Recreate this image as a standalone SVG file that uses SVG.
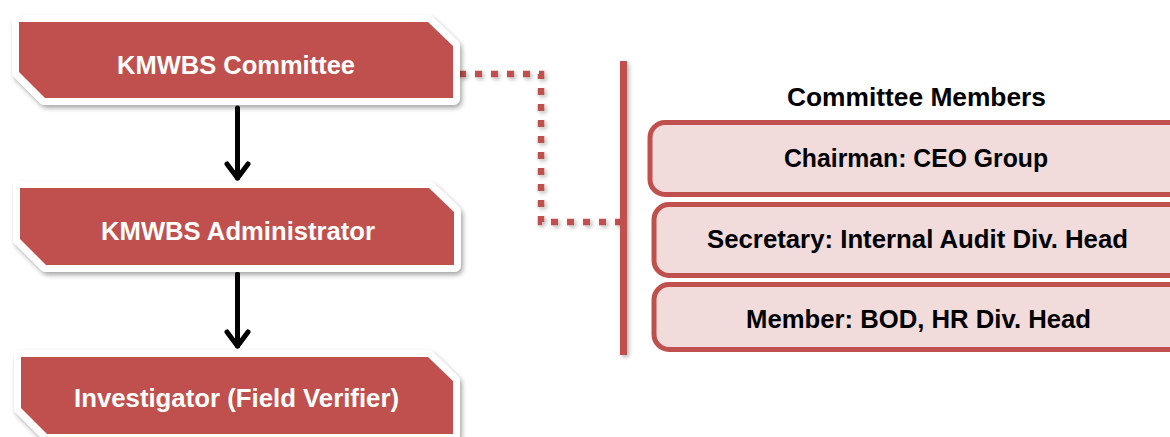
<svg xmlns="http://www.w3.org/2000/svg" width="1170" height="437" viewBox="0 0 1170 437">
<defs>
<filter id="sh" x="-10%" y="-20%" width="120%" height="150%">
<feGaussianBlur in="SourceAlpha" stdDeviation="2.5"/>
<feOffset dx="2" dy="3" result="b"/>
<feComponentTransfer><feFuncA type="linear" slope="0.35"/></feComponentTransfer>
<feMerge><feMergeNode/><feMergeNode in="SourceGraphic"/></feMerge>
</filter>
<filter id="shu" filterUnits="userSpaceOnUse" x="0" y="0" width="1170" height="437">
<feGaussianBlur in="SourceAlpha" stdDeviation="2"/>
<feOffset dx="2" dy="2" result="b"/>
<feComponentTransfer><feFuncA type="linear" slope="0.3"/></feComponentTransfer>
<feMerge><feMergeNode/><feMergeNode in="SourceGraphic"/></feMerge>
</filter>
</defs>
<style>
.outer{fill:#ffffff;stroke:#ffffff;stroke-width:14;stroke-linejoin:round}
.red{fill:#C0504D}
.lt{font-family:"Liberation Sans",Arial,sans-serif;font-weight:bold;font-size:25.5px;fill:#ffffff;text-anchor:middle}
.rt{font-family:"Liberation Sans",Arial,sans-serif;font-weight:bold;font-size:25px;fill:#000000;text-anchor:middle}
.mem{fill:#F2DCDB;stroke:#C0504D;stroke-width:5}
.arr{fill:none;stroke:#000000;stroke-width:5;stroke-linecap:round;stroke-linejoin:round}
</style>
<rect width="1170" height="437" fill="#ffffff"/>

<g id="connectors">
<path d="M459 74 H541 V222 H622" fill="none" stroke="#C0504D" stroke-width="6.5" stroke-dasharray="7 9" filter="url(#shu)"/>
<line x1="237.5" y1="108" x2="237.5" y2="178" class="arr"/>
<polyline points="227,164 237.5,178 248,164" class="arr"/>
<line x1="237.5" y1="274" x2="237.5" y2="346" class="arr"/>
<polyline points="227,332 237.5,346 248,332" class="arr"/>
</g>

<g id="node-committee">
<polygon class="outer" filter="url(#sh)" points="19,22 428,22 453,46 453,98 45,98 19,72"/>
<polygon class="red" points="19,22 428,22 453,46 453,98 45,98 19,72"/>
<text class="lt" x="236" y="74" textLength="238" lengthAdjust="spacingAndGlyphs">KMWBS Committee</text>
</g>

<g id="node-administrator">
<polygon class="outer" filter="url(#sh)" points="20,188 429,188 454,212 454,265 46,265 20,239"/>
<polygon class="red" points="20,188 429,188 454,212 454,265 46,265 20,239"/>
<text class="lt" x="238" y="240" textLength="274" lengthAdjust="spacingAndGlyphs">KMWBS Administrator</text>
</g>

<g id="node-investigator">
<polygon class="outer" filter="url(#sh)" points="21,357 428,357 453,381 453,434 47,434 21,408"/>
<polygon class="red" points="21,357 428,357 453,381 453,434 47,434 21,408"/>
<text class="lt" x="236.5" y="407" textLength="325" lengthAdjust="spacingAndGlyphs">Investigator (Field Verifier)</text>
</g>

<g id="bracket">
<rect x="620" y="61" width="7" height="294" fill="#C0504D" filter="url(#shu)"/>
</g>

<g id="members-title">
<text class="rt" x="916.5" y="106" textLength="259" lengthAdjust="spacingAndGlyphs">Committee Members</text>
</g>

<g id="member-chairman">
<rect class="mem" x="650" y="122.5" width="540" height="72" rx="15"/>
<text class="rt" x="916" y="167" textLength="264" lengthAdjust="spacingAndGlyphs">Chairman: CEO Group</text>
</g>

<g id="member-secretary">
<rect class="mem" x="654" y="204.5" width="540" height="71" rx="15"/>
<text class="rt" x="917.5" y="248" textLength="421" lengthAdjust="spacingAndGlyphs">Secretary: Internal Audit Div. Head</text>
</g>

<g id="member-member">
<rect class="mem" x="654" y="284.5" width="540" height="65" rx="15"/>
<text class="rt" x="918.5" y="328" textLength="345" lengthAdjust="spacingAndGlyphs">Member: BOD, HR Div. Head</text>
</g>
</svg>
